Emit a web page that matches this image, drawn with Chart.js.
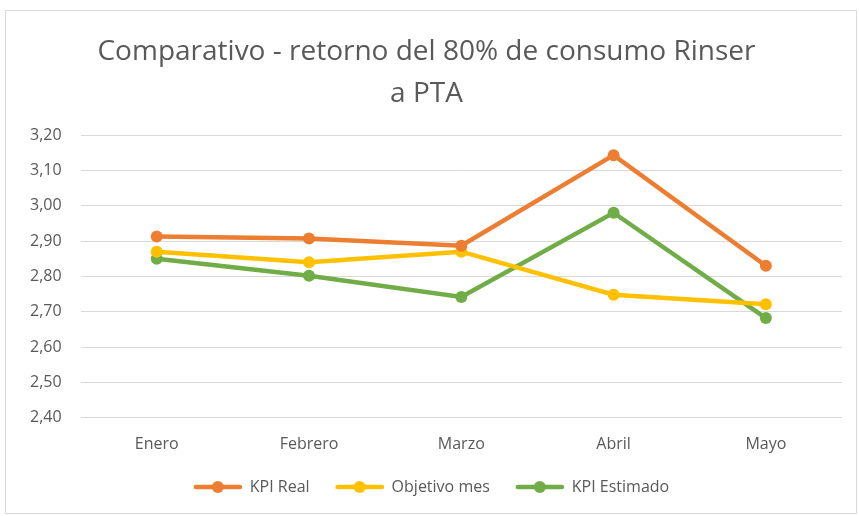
<!DOCTYPE html>
<html><head><meta charset="utf-8">
<script src="https://cdn.jsdelivr.net/npm/chart.js@4/dist/chart.umd.min.js"></script>
<style>
html,body{margin:0;padding:0;background:#fff;}
#wrap{position:absolute;left:5px;top:10px;width:852px;height:504px;border:1px solid #d9d9d9;box-sizing:border-box;}
canvas{display:block;}
</style></head>
<body><div id="wrap"><canvas id="c" width="850" height="502"></canvas></div>
<script>
const categories = ["Enero","Febrero","Marzo","Abril","Mayo"];
const kpiReal = [2.913, 2.907, 2.887, 3.143, 2.830];
const objetivoMes = [2.870, 2.840, 2.870, 2.748, 2.721];
const kpiEstimado = [2.850, 2.802, 2.742, 2.980, 2.682];
const seriesNames = ["KPI Real","Objetivo mes","KPI Estimado"];
const seriesColors = ["#ED7D31","#FFC000","#70AD47"];
const yMin = 2.4, yMax = 3.2, yStep = 0.1;

const FONT = "'Open Sans', sans-serif";
const ICON_MARGIN = 10;
function legendIcon(color){
  const c = document.createElement('canvas');
  c.width = 48 + ICON_MARGIN; c.height = 14;
  const x = c.getContext('2d');
  const o = ICON_MARGIN;
  x.strokeStyle = color; x.lineWidth = 4.5; x.lineCap = 'round';
  x.beginPath(); x.moveTo(o+2,7); x.lineTo(o+46,7); x.stroke();
  x.fillStyle = color; x.beginPath(); x.arc(o+24,7,6,0,Math.PI*2); x.fill();
  return c;
}
const datasets = [kpiReal, objetivoMes, kpiEstimado].map((d,i)=>({
  label: seriesNames[i], data: d,
  borderColor: seriesColors[i], backgroundColor: seriesColors[i],
  borderWidth: 4.5, pointRadius: 6, pointHoverRadius: 6, tension: 0,
  pointBorderWidth: 0
}));
new Chart(document.getElementById('c'), {
  type: 'line',
  data: { labels: categories, datasets },
  options: {
    responsive: false, animation: false,
    layout: { padding: { left: 5, right: 14, top: 10, bottom: 8 } },
    plugins: {
      title: { display: true, text: ["Comparativo - retorno del 80% de consumo Rinser","a PTA"],
        color: '#595959', font: { family: FONT, size: 28, weight: 'normal', lineHeight: 1.5 },
        padding: { top: 10, bottom: 20 } },
      legend: { position: 'bottom',
        labels: { color: '#595959', font: { family: FONT, size: 16 }, usePointStyle: true, pointStyleWidth: 48 + ICON_MARGIN, boxHeight: 14, padding: 16,
          generateLabels(chart){
            const items = Chart.defaults.plugins.legend.labels.generateLabels(chart);
            items.forEach((it,i)=>{ it.pointStyle = legendIcon(seriesColors[i]); });
            return items;
          } } },
      tooltip: { enabled: false }
    },
    scales: {
      x: { offset: true, grid: { display: false }, border: { display: false },
        ticks: { color: '#595959', font: { family: FONT, size: 16 }, padding: 9 } },
      y: { min: yMin, max: yMax, border: { display: false },
        grid: { color: '#d9d9d9', lineWidth: 1, drawTicks: false },
        ticks: { stepSize: yStep, color: '#595959', font: { family: FONT, size: 16 }, padding: 19,
          callback: v => v.toFixed(2).replace('.', ',') } }
    }
  }
});
</script></body></html>
